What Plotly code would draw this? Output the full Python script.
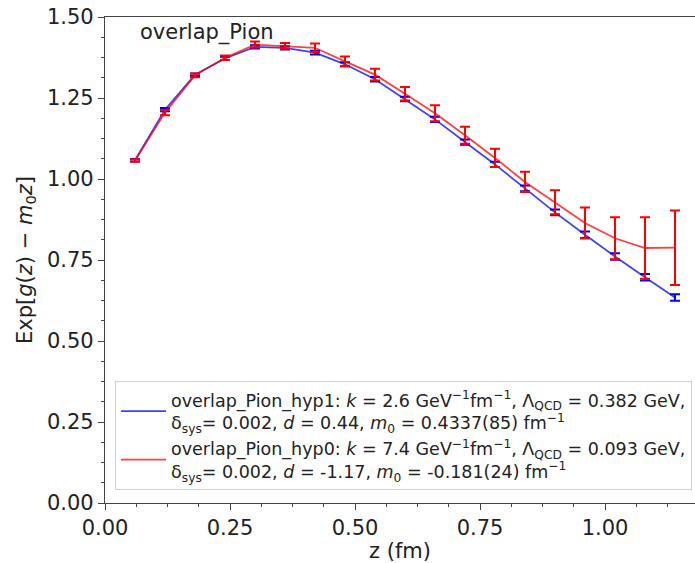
import plotly.graph_objects as go

z = [0.06, 0.12, 0.18, 0.24, 0.30, 0.36, 0.42, 0.48, 0.54, 0.60,
     0.66, 0.72, 0.78, 0.84, 0.90, 0.96, 1.02, 1.08, 1.14]
hyp1 = [1.058, 1.214, 1.322, 1.372, 1.408, 1.405, 1.390, 1.354, 1.308, 1.247,
        1.184, 1.114, 1.045, 0.971, 0.897, 0.828, 0.761, 0.697, 0.634]
hyp1_err = [0.004, 0.005, 0.004, 0.005, 0.005, 0.005, 0.006, 0.006, 0.007, 0.007,
            0.008, 0.008, 0.008, 0.009, 0.009, 0.010, 0.010, 0.010, 0.010]
hyp0 = [1.057, 1.205, 1.320, 1.374, 1.415, 1.411, 1.405, 1.363, 1.322, 1.263,
        1.203, 1.135, 1.065, 0.991, 0.928, 0.864, 0.817, 0.787, 0.788]
hyp0_err = [0.004, 0.008, 0.006, 0.007, 0.009, 0.009, 0.013, 0.015, 0.018, 0.021,
            0.025, 0.026, 0.028, 0.031, 0.037, 0.048, 0.065, 0.095, 0.115]

name1 = ("overlap_Pion_hyp1: <i>k</i> = 2.6 GeV<sup>−1</sup>fm<sup>−1</sup>, "
         "Λ<sub>QCD</sub> = 0.382 GeV,<br>δ<sub>sys</sub>= 0.002, <i>d</i> = 0.44, "
         "<i>m</i><sub>0</sub> = 0.4337(85) fm<sup>−1</sup>")
name0 = ("overlap_Pion_hyp0: <i>k</i> = 7.4 GeV<sup>−1</sup>fm<sup>−1</sup>, "
         "Λ<sub>QCD</sub> = 0.093 GeV,<br>δ<sub>sys</sub>= 0.002, <i>d</i> = -1.17, "
         "<i>m</i><sub>0</sub> = -0.181(24) fm<sup>−1</sup>")

FONT = "DejaVu Sans"
fig = go.Figure()
fig.add_trace(go.Scatter(
    x=z, y=hyp1, mode="lines", name=name1,
    line=dict(color="rgba(0,0,255,0.75)", width=1.8),
    error_y=dict(type="data", array=hyp1_err, visible=True,
                 color="#0000ff", thickness=2, width=5)))
fig.add_trace(go.Scatter(
    x=z, y=hyp0, mode="lines", name=name0,
    line=dict(color="rgba(255,0,0,0.75)", width=1.8),
    error_y=dict(type="data", array=hyp0_err, visible=True,
                 color="#ff0000", thickness=2, width=5)))

fig.add_annotation(text="overlap_Pion", xref="paper", yref="paper",
                   x=0.056, y=0.968, xanchor="left", yanchor="middle",
                   showarrow=False, font=dict(family=FONT, size=21, color="#222"))

axis_common = dict(
    showline=True, linecolor="#444", linewidth=1.3,
    ticks="outside", ticklen=6, tickwidth=1.2, tickcolor="#444",
    showgrid=False, zeroline=False, tickformat=".2f",
    tickfont=dict(family=FONT, size=21, color="#222"),
    minor=dict(ticks="outside", ticklen=3, tickwidth=1, tickcolor="#444", dtick=0.0625),
)
fig.update_layout(
    width=695, height=563,
    margin=dict(l=105, r=0, t=17, b=60),
    plot_bgcolor="white", paper_bgcolor="white",
    font=dict(family=FONT, color="#222"),
    xaxis=dict(range=[0, 1.18], dtick=0.25, tick0=0, mirror=True,
               title=dict(text="z (fm)", font=dict(family=FONT, size=21), standoff=4),
               **axis_common),
    yaxis=dict(range=[0, 1.5], dtick=0.25, tick0=0,
               title=dict(text="Exp[<i>g</i>(<i>z</i>) − <i>m</i><sub>0</sub><i>z</i>]",
                          font=dict(family=FONT, size=21), standoff=8),
               **axis_common),
    legend=dict(x=0.017, y=0.027, xanchor="left", yanchor="bottom",
                bgcolor="rgba(255,255,255,0.9)", bordercolor="#d0d0d0", borderwidth=1,
                font=dict(family=FONT, size=17.5, color="#222"),
                itemwidth=45, tracegroupgap=4),
    showlegend=True,
)
fig.write_html("out.html")
